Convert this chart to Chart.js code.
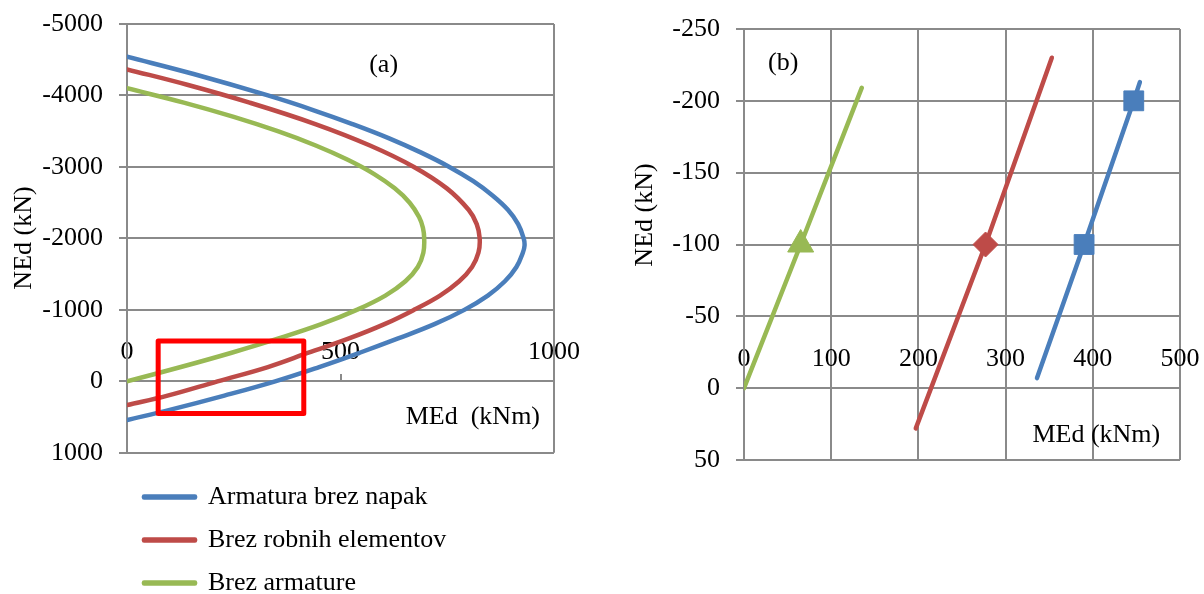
<!DOCTYPE html>
<html>
<head>
<meta charset="utf-8">
<script src="https://cdn.jsdelivr.net/npm/chart.js@4.4.1/dist/chart.umd.min.js"></script>
<style>
  html, body { margin: 0; padding: 0; background: #fff; overflow: hidden; }
  #wrapA { position: absolute; left: 0; top: 0; }
  #wrapB { position: absolute; left: 620px; top: 0; }
</style>
</head>
<body>
<div id="wrapA"><canvas id="chartA" width="600" height="610"></canvas></div>
<div id="wrapB"><canvas id="chartB" width="584" height="480"></canvas></div>
<script>
// series names (legend)
const seriesNames = ['Armatura brez napak', 'Brez robnih elementov', 'Brez armature'];

// panel (a): interaction curves, MEd (kNm) / NEd (kN)
const aBlueM  = [0, 156, 330, 434, 528, 614, 689, 755, 811, 856, 892, 916, 929, 931, 927, 912, 885, 845, 790, 720, 635, 545, 450, 347, 228, 100, 0];
const aBlueN  = [-4543, -4300, -4000, -3800, -3600, -3400, -3200, -3000, -2800, -2600, -2400, -2200, -2000, -1900, -1800, -1600, -1400, -1200, -1000, -800, -600, -400, -200, 0, 200, 400, 542];
const aRedM   = [0, 141, 287, 441, 569, 672, 749, 800, 819, 826, 823, 808, 778, 733, 672, 603, 520, 425, 330, 212, 95, 0];
const aRedN   = [-4366, -4150, -3900, -3600, -3300, -3000, -2700, -2400, -2200, -2000, -1800, -1600, -1400, -1200, -1000, -800, -600, -400, -200, 0, 200, 332];
const aGreenM = [0, 133, 250, 353, 442, 517, 579, 627, 662, 684, 693, 696, 694, 681, 652, 605, 538, 455, 355, 245, 126, 0];
const aGreenN = [-4101, -3900, -3700, -3500, -3300, -3100, -2900, -2700, -2500, -2300, -2150, -2000, -1800, -1600, -1400, -1200, -1000, -800, -600, -400, -200, 0];

// red frame marking the zoomed region in (a)
const zoomBoxM = [73, 414];
const zoomBoxN = [-564, 449];

// panel (b): zoom near N = 0
const bBlueM  = [336, 390, 447, 454];
const bBlueN  = [-7, -100, -200, -213];
const bBlueMarked = [0, 1, 1, 0];
const bRedM   = [197, 277, 353];
const bRedN   = [28, -100, -230];
const bRedMarked = [0, 1, 0];
const bGreenM = [0, 65, 135];
const bGreenN = [0, -100, -209];
const bGreenMarked = [0, 1, 0];

// ticks
const aMTicks = [0, 500, 1000];
const aNTicks = [-5000, -4000, -3000, -2000, -1000, 0, 1000];
const bMTicks = [0, 100, 200, 300, 400, 500];
const bNTicks = [-250, -200, -150, -100, -50, 0, 50];

const BLUE = '#4A7EBB', RED = '#BE4B48', GREEN = '#98B954';
const GRID = '#8a8a8a';
const FAMILY = '"Liberation Serif", "Times New Roman", serif';
const tickFont = { family: FAMILY, size: 26 };

function pts(ms, ns) {
  return ms.map((m, i) => ({ x: m, y: ns[i] }));
}

function curve(label, color, ms, ns) {
  return {
    label: label,
    data: pts(ms, ns),
    borderColor: color,
    backgroundColor: color,
    borderWidth: 4.5,
    borderCapStyle: 'round',
    borderJoinStyle: 'round',
    pointRadius: 0,
    tension: 0.4
  };
}

function marked(color, ms, ns, flags, style, r) {
  return {
    data: pts(ms, ns),
    borderColor: color,
    backgroundColor: color,
    borderWidth: 4.5,
    borderCapStyle: 'round',
    pointStyle: style,
    pointRadius: flags.map(f => f ? r : 0),
    pointBackgroundColor: color,
    pointBorderColor: color,
    pointBorderWidth: 1,
    tension: 0
  };
}

const panelText = {
  id: 'panelText',
  afterDraw(chart, args, opts) {
    const ctx = chart.ctx;
    const sx = chart.scales.x, sy = chart.scales.y;
    ctx.save();
    ctx.fillStyle = '#000';
    ctx.textAlign = 'center';
    ctx.textBaseline = 'middle';
    ctx.font = '26px ' + FAMILY;
    (opts.items || []).forEach(it => {
      const px = it.px !== undefined ? it.px : sx.getPixelForValue(it.x);
      const py = it.py !== undefined ? it.py : sy.getPixelForValue(it.y);
      ctx.save();
      ctx.translate(px, py);
      if (it.rotate) ctx.rotate(-Math.PI / 2);
      ctx.fillText(it.text, 0, 0);
      ctx.restore();
    });
    ctx.restore();
  }
};

const plotFrame = {
  id: 'plotFrame',
  beforeDatasetsDraw(chart, args, opts) {
    if (!opts.right) return;
    const ctx = chart.ctx;
    const { right, top, bottom } = chart.chartArea;
    ctx.save();
    ctx.strokeStyle = GRID;
    ctx.lineWidth = 2;
    ctx.beginPath();
    ctx.moveTo(right, top);
    ctx.lineTo(right, bottom);
    ctx.stroke();
    ctx.restore();
  }
};

const zoomBox = {
  id: 'zoomBox',
  afterDatasetsDraw(chart, args, opts) {
    if (!opts.m) return;
    const ctx = chart.ctx;
    const sx = chart.scales.x, sy = chart.scales.y;
    const x1 = sx.getPixelForValue(opts.m[0]), x2 = sx.getPixelForValue(opts.m[1]);
    const y1 = sy.getPixelForValue(opts.n[0]), y2 = sy.getPixelForValue(opts.n[1]);
    ctx.save();
    ctx.strokeStyle = '#FF0000';
    ctx.lineWidth = 5;
    ctx.lineJoin = 'round';
    ctx.strokeRect(x1, y1, x2 - x1, y2 - y1);
    ctx.restore();
  }
};

function xScale(min, max, ticks, onArea) {
  return {
    type: 'linear', min: min, max: max, position: { y: 0 },
    afterBuildTicks: s => { s.ticks = ticks.map(v => ({ value: v })); },
    grid: { drawOnChartArea: onArea, color: GRID, lineWidth: 2, tickLength: -8 },
    border: { display: true, color: GRID, width: 2 },
    ticks: { padding: -37, font: tickFont, color: '#000', autoSkip: false, maxRotation: 0, callback: v => String(v) }
  };
}

function yScale(min, max, ticks, width) {
  return {
    type: 'linear', min: min, max: max, reverse: true,
    afterBuildTicks: s => { s.ticks = ticks.map(v => ({ value: v })); },
    afterFit: s => { s.width = width; s.paddingTop = 0; s.paddingBottom = 0; },
    grid: { color: GRID, lineWidth: 2, tickLength: 8 },
    border: { display: true, color: GRID, width: 2 },
    ticks: { padding: 16, font: tickFont, color: '#000', callback: v => String(v) }
  };
}

new Chart(document.getElementById('chartA'), {
  type: 'line',
  data: {
    datasets: [
      curve(seriesNames[0], BLUE, aBlueM, aBlueN),
      curve(seriesNames[1], RED, aRedM, aRedN),
      curve(seriesNames[2], GREEN, aGreenM, aGreenN)
    ]
  },
  options: {
    responsive: false,
    animation: false,
    devicePixelRatio: 1,
    layout: { padding: { left: 0, top: 24, right: 46, bottom: 4 } },
    scales: {
      x: xScale(0, 1000, aMTicks, false),
      y: yScale(-5000, 1000, aNTicks, 127)
    },
    plugins: {
      legend: {
        position: 'bottom',
        align: 'start',
        fullSize: false,
        title: { display: true, text: '', font: { size: 1 }, padding: { top: 13, bottom: 0 } },
        labels: { boxWidth: 51, boxHeight: 1, padding: 17, color: '#000', font: { family: FAMILY, size: 26 } }
      },
      tooltip: { enabled: false },
      panelText: {
        items: [
          { text: '(a)', x: 601, y: -4427 },
          { text: 'MEd  (kNm)', x: 810, y: 498 },
          { text: 'NEd (kN)', px: 24, py: 238, rotate: true }
        ]
      },
      plotFrame: { right: true },
      zoomBox: { m: zoomBoxM, n: zoomBoxN }
    }
  },
  plugins: [panelText, plotFrame, zoomBox]
});

new Chart(document.getElementById('chartB'), {
  type: 'line',
  data: {
    datasets: [
      marked(BLUE, bBlueM, bBlueN, bBlueMarked, 'rect', 14),
      marked(RED, bRedM, bRedN, bRedMarked, 'rectRot', 12.5),
      marked(GREEN, bGreenM, bGreenN, bGreenMarked, 'triangle', 15)
    ]
  },
  options: {
    responsive: false,
    animation: false,
    devicePixelRatio: 1,
    layout: { padding: { left: 0, top: 29, right: 24, bottom: 20 } },
    scales: {
      x: xScale(0, 500, bMTicks, true),
      y: yScale(-250, 50, bNTicks, 124)
    },
    plugins: {
      legend: { display: false },
      tooltip: { enabled: false },
      panelText: {
        items: [
          { text: '(b)', x: 45, y: -226 },
          { text: 'MEd (kNm)', x: 404, y: 33 },
          { text: 'NEd (kN)', px: 25, py: 215, rotate: true }
        ]
      }
    }
  },
  plugins: [panelText]
});
</script>
</body>
</html>
